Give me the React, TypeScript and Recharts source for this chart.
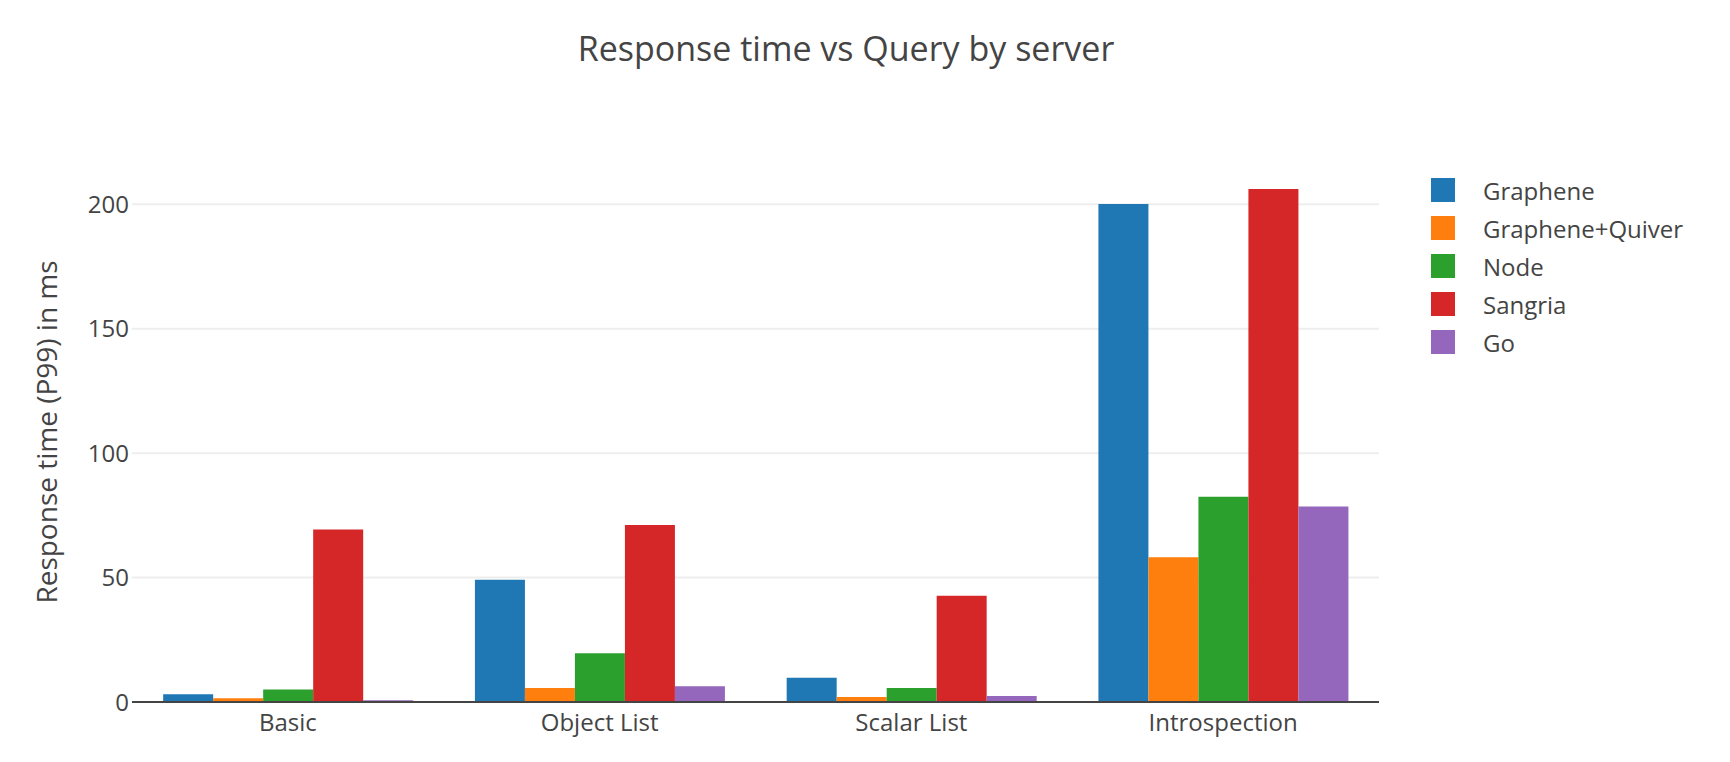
import React from 'react';
import { BarChart, Bar, XAxis, YAxis, CartesianGrid, Legend } from 'recharts';

const categories = ['Basic', 'Object List', 'Scalar List', 'Introspection'];
const graphene = [3.1, 49.1, 9.7, 200.1];
const grapheneQuiver = [1.5, 5.6, 2.0, 58.2];
const node = [5.0, 19.6, 5.6, 82.5];
const sangria = [69.3, 71.1, 42.7, 206.2];
const go = [0.7, 6.3, 2.4, 78.6];
const yTicks = [0, 50, 100, 150, 200];

const series = [
  { key: 'graphene', name: 'Graphene', color: '#1f77b4', values: graphene },
  { key: 'grapheneQuiver', name: 'Graphene+Quiver', color: '#ff7f0e', values: grapheneQuiver },
  { key: 'node', name: 'Node', color: '#2ca02c', values: node },
  { key: 'sangria', name: 'Sangria', color: '#d62728', values: sangria },
  { key: 'go', name: 'Go', color: '#9467bd', values: go },
];

const data = categories.map((c, i) => {
  const row: Record<string, string | number> = { query: c };
  series.forEach((s) => { row[s.key] = s.values[i]; });
  return row;
});

const FONT = '"Open Sans", sans-serif';
const TEXT = '#444';

// legend drawn by hand to get plotly's spacing
function ServerLegend() {
  return (
    <div style={{ fontFamily: FONT, fontSize: 24, color: TEXT }}>
      {series.map((s) => (
        <div key={s.key} style={{ display: 'flex', alignItems: 'center', height: 38 }}>
          <div style={{ width: 24, height: 24, background: s.color, flexShrink: 0 }} />
          <span style={{ marginLeft: 28, whiteSpace: 'nowrap' }}>{s.name}</span>
        </div>
      ))}
    </div>
  );
}

function YTitle(props: any) {
  const vb = props.viewBox || {};
  const x = (vb.x || 0) + 57;
  const y = (vb.y || 0) + (vb.height || 0) / 2;
  return (
    <text
      x={x}
      y={y}
      transform={`rotate(-90, ${x}, ${y})`}
      textAnchor="middle"
      fill={TEXT}
      fontSize={28}
      fontFamily={FONT}
    >
      Response time (P99) in ms
    </text>
  );
}

// only grid lines at the labelled ticks, none at the top edge
function gridRows({ yAxis, offset }: any) {
  if (yAxis && typeof yAxis.scale === 'function') {
    return yTicks.map((t) => yAxis.scale(t));
  }
  const top = offset.top;
  const h = offset.height;
  return yTicks.map((t) => top + h - (t / 217) * h);
}

export default function App() {
  return (
    <div style={{ position: 'absolute', left: 0, top: 0, width: 1730, height: 762, background: '#fff' }}>
      <div
        style={{
          position: 'absolute', left: 0, top: 31, width: 1692, textAlign: 'center',
          fontFamily: FONT, fontSize: 34, lineHeight: '34px', color: TEXT,
        }}
      >
        Response time vs Query by server
      </div>
      <BarChart
        width={1730}
        height={762}
        data={data}
        margin={{ top: 162, right: 351, bottom: 0, left: 0 }}
        barCategoryGap="10%"
        barGap={0}
      >
        <CartesianGrid vertical={false} stroke="#eee" strokeWidth={2} horizontalCoordinatesGenerator={gridRows} />
        <XAxis
          dataKey="query"
          axisLine={{ stroke: TEXT, strokeWidth: 2 }}
          tickLine={false}
          tickSize={0}
          tickMargin={12}
          tick={{ fill: TEXT, fontSize: 24, fontFamily: FONT }}
          height={60}
        />
        <YAxis
          width={132}
          domain={[0, 217]}
          ticks={yTicks}
          axisLine={false}
          tickLine={false}
          tickSize={0}
          tickMargin={3}
          tick={{ fill: TEXT, fontSize: 24, fontFamily: FONT }}
          label={<YTitle />}
        />
        <Legend
          layout="vertical"
          align="center"
          verticalAlign="middle"
          content={<ServerLegend />}
          wrapperStyle={{ left: 1431, top: 171, width: 290, height: 190 }}
        />
        {series.map((s) => (
          <Bar key={s.key} dataKey={s.key} name={s.name} fill={s.color} isAnimationActive={false} />
        ))}
      </BarChart>
    </div>
  );
}
